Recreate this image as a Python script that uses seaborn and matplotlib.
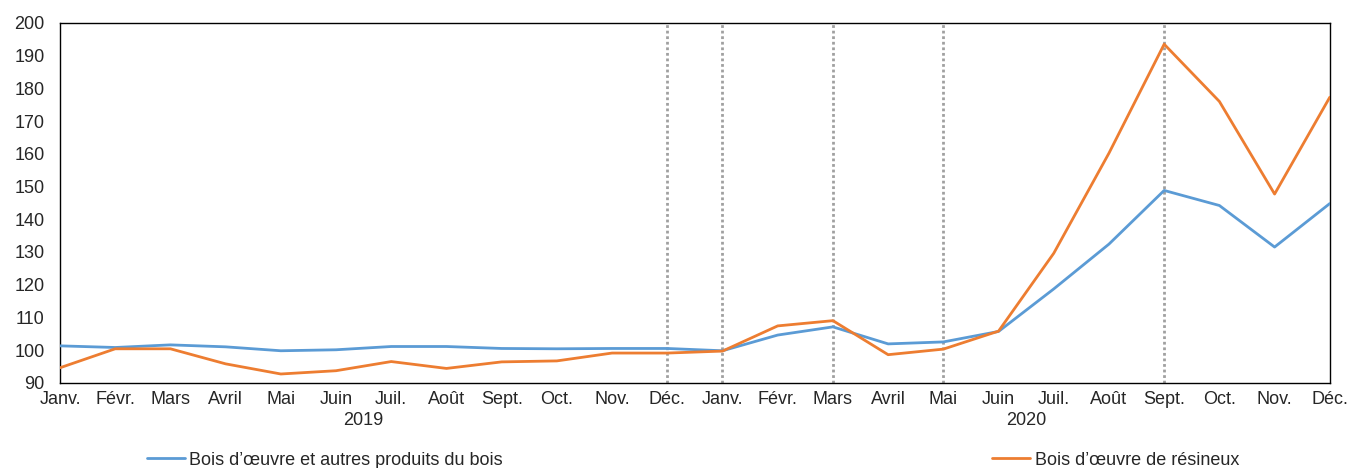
import pandas as pd
import seaborn as sns
import matplotlib.pyplot as plt
from matplotlib.lines import Line2D

mois = ["Janv.", "Févr.", "Mars", "Avril", "Mai", "Juin", "Juil.", "Août",
        "Sept.", "Oct.", "Nov.", "Déc."]
tick_labels = mois + mois
annees = ["2019", "2020"]

bois_autres = [101.3, 100.8, 101.6, 101.0, 99.8, 100.1, 101.1, 101.1, 100.5, 100.4, 100.5, 100.5,
               99.8, 104.6, 107.1, 101.9, 102.5, 105.7, 118.7, 132.4, 148.8, 144.2, 131.5, 144.8]
resineux = [94.6, 100.4, 100.4, 95.8, 92.7, 93.7, 96.5, 94.4, 96.4, 96.7, 99.1, 99.1,
            99.7, 107.4, 109.0, 98.6, 100.3, 105.8, 129.6, 160.2, 193.5, 176.0, 147.7, 177.3]
lignes_pointillees = [11, 12, 14, 16, 20]

lab_bleu = "Bois d\u2019œuvre et autres produits du bois"
lab_orange = "Bois d\u2019œuvre de résineux"

df = pd.DataFrame({
    "t": list(range(len(bois_autres))) * 2,
    "valeur": bois_autres + resineux,
    "serie": [lab_bleu] * len(bois_autres) + [lab_orange] * len(resineux),
})

sns.set_style("white")
plt.rcParams["font.family"] = ["Liberation Sans", "DejaVu Sans"]

bleu = "#5B9BD5"
orange = "#ED7D31"

fig = plt.figure(figsize=(13.48, 4.68), dpi=100)
ax = fig.add_axes([0.0445, 0.182, 0.942, 0.769])

for x in lignes_pointillees:
    ax.axvline(x, color="#A0A0A0", linestyle=(0, (1, 1)), linewidth=2, zorder=1)

sns.lineplot(data=df, x="t", y="valeur", hue="serie", palette=[bleu, orange],
             linewidth=2, legend=False, ax=ax, zorder=3)

ax.set_xlim(0, len(bois_autres) - 1)
ax.set_ylim(90, 200)
ax.set_yticks(range(90, 201, 10))
ax.set_xticks(range(len(tick_labels)))
ax.set_xticklabels(tick_labels)
ax.tick_params(axis="both", direction="in", length=5, width=1, labelsize=13, color="black")
ax.tick_params(axis="y", pad=11)
ax.tick_params(axis="x", pad=6)
ax.set_xlabel("")
ax.set_ylabel("")
for s in ax.spines.values():
    s.set_color("black")
    s.set_linewidth(1)

for i, an in enumerate(annees):
    ax.text(5.5 + 12 * i, -0.08, an, transform=ax.get_xaxis_transform(),
            ha="center", va="top", fontsize=13)

h1 = [Line2D([], [], color=bleu, linewidth=2)]
h2 = [Line2D([], [], color=orange, linewidth=2)]
fig.legend(h1, [lab_bleu], loc="center left", bbox_to_anchor=(0.097, 0.017),
           frameon=False, fontsize=13, handlelength=2.1, handletextpad=0.25)
fig.legend(h2, [lab_orange], loc="center left", bbox_to_anchor=(0.724, 0.017),
           frameon=False, fontsize=13, handlelength=2.1, handletextpad=0.25)

fig.savefig("out.png", dpi=100)
